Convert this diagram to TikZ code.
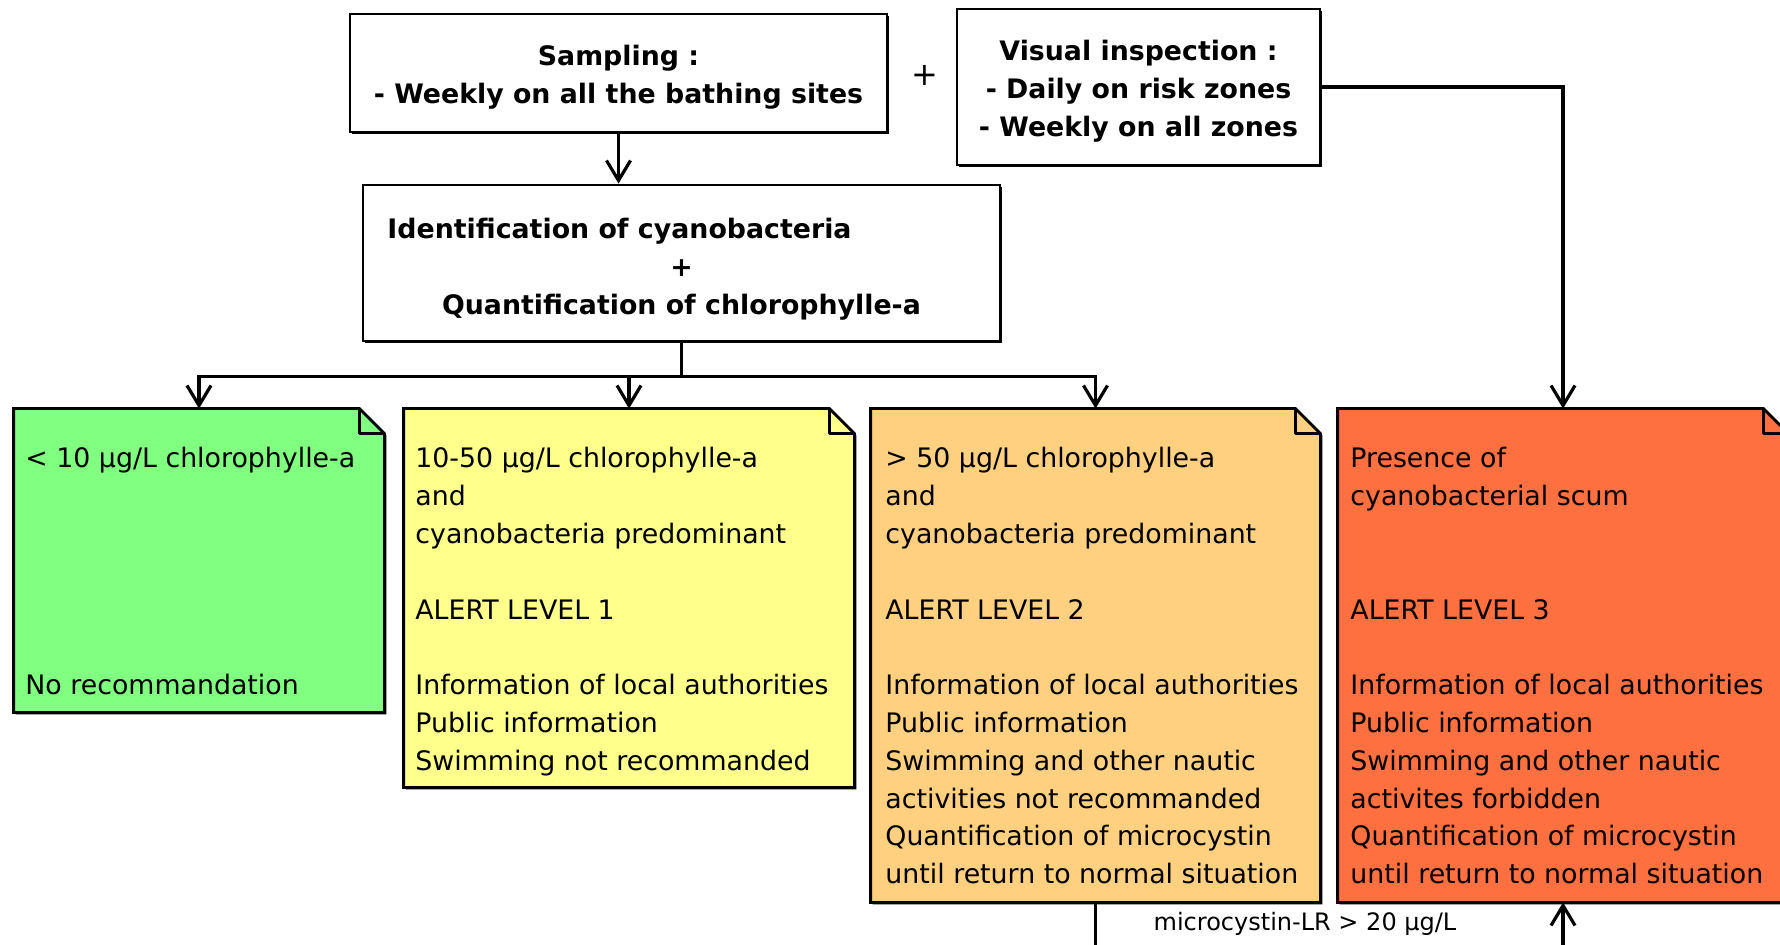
\documentclass[tikz,border=0pt]{standalone}
\usepackage{fontspec}
\setmainfont{DejaVu Sans}
\usepackage{tikz}
\usetikzlibrary{arrows.meta,calc,shadows}
\definecolor{levelzero}{RGB}{128,255,128}
\definecolor{levelone}{RGB}{255,255,140}
\definecolor{leveltwo}{RGB}{255,208,128}
\definecolor{levelthree}{RGB}{255,112,64}
\def\FoldSize{12.5pt}
\def\NoteSkip{18.9pt}
\tikzset{
  boxline/.style={draw=black,line width=1.4pt},
  headbox/.style={boxline,fill=white,inner sep=0pt,align=center,
    drop shadow={shadow xshift=1pt,shadow yshift=-1pt,opacity=1,fill=black},
    font=\fontsize{13.4}{19}\selectfont\bfseries},
  notebox/.style={draw=none,inner sep=0pt},
  notetext/.style={anchor=north west,inner sep=0pt,align=left,
    font=\fontsize{13.4}{18.9}\selectfont},
  link/.style={line width=1.8pt},
  arr/.style={link,-{Straight Barb[length=10pt,width=12pt,line width=1.6pt]}},
}
% note with a folded corner, drawn round a named node
\newcommand{\dogear}[2]{%
  \fill[black] ([shift={(1pt,-1pt)}]#1.north west) -- ([shift={(1pt-\FoldSize,-1pt)}]#1.north east)
    -- ([shift={(1pt,-1pt-\FoldSize)}]#1.north east) -- ([shift={(1pt,-1pt)}]#1.south east)
    -- ([shift={(1pt,-1pt)}]#1.south west) -- cycle;
  \draw[boxline,fill=#2] (#1.north west) -- ([xshift=-\FoldSize]#1.north east)
    -- ([yshift=-\FoldSize]#1.north east) -- (#1.south east) -- (#1.south west) -- cycle;
  \draw[boxline,line join=round] ([xshift=-\FoldSize]#1.north east) |- ([yshift=-\FoldSize]#1.north east);
}

\begin{document}
\begin{tikzpicture}[x=0.5pt,y=-0.5pt]
  \useasboundingbox (0,0) rectangle (1780,945);
  \clip (0,0) rectangle (1780,945);
  \coordinate (floor) at (0,945);
  % monitoring
  \node[headbox,minimum width=268.5pt,minimum height=59pt] (samp) at (618.5,73)
    {\rule{0pt}{14pt}Sampling :\\- Weekly on all the bathing sites};
  \node[headbox,minimum width=181.5pt,minimum height=78pt] (vis) at (1138.5,87)
    {\rule{0pt}{14pt}Visual inspection :\\- Daily on risk zones\\- Weekly on all zones};
  \node[font=\fontsize{16}{19}\selectfont] (plus) at (925,75) {+};
  \node[headbox,minimum width=318.5pt,minimum height=78pt] (ident) at (681.5,263)
    {\rule{0pt}{16.5pt}Identification of cyanobacteria\hspace*{62pt}\\+\\Quantification of chlorophylle-a};
  % alert levels
  \node[notebox,minimum width=185pt,minimum height=151.5pt] (green) at (199,560.5) {};
  \node[notebox,minimum width=225pt,minimum height=189pt] (yellow) at (629,598) {};
  \node[notebox,minimum width=224.5pt,minimum height=246.5pt] (orange) at (1095.5,655.5) {};
  \node[notebox,minimum width=225pt,minimum height=246.5pt] (red) at (1563,655.5) {};
  \dogear{green}{levelzero}
  \dogear{yellow}{levelone}
  \dogear{orange}{leveltwo}
  \dogear{red}{levelthree}
  \node[notetext] (greentxt) at (25,441)
    {\strut< 10 µg/L chlorophylle-a\\[5*\NoteSkip]No recommandation};
  \node[notetext] (yellowtxt) at (415,441)
    {\strut10-50 µg/L chlorophylle-a\\and\\cyanobacteria predominant\\[\NoteSkip]ALERT LEVEL 1\\[\NoteSkip]%
     Information of local authorities\\Public information\\Swimming not recommanded};
  \node[notetext] (orangetxt) at (885,441)
    {\strut> 50 µg/L chlorophylle-a\\and\\cyanobacteria predominant\\[\NoteSkip]ALERT LEVEL 2\\[\NoteSkip]%
     Information of local authorities\\Public information\\Swimming and other nautic\\activities not recommanded\\%
     Quantification of microcystin\\until return to normal situation};
  \node[notetext] (redtxt) at (1350,441)
    {\strut Presence of\\cyanobacterial scum\\[2*\NoteSkip]ALERT LEVEL 3\\[\NoteSkip]%
     Information of local authorities\\Public information\\Swimming and other nautic\\activites forbidden\\%
     Quantification of microcystin\\until return to normal situation};
  % connectors
  \draw[arr] (samp.south) -- (samp.south |- ident.north);
  \draw[link] (ident.south) -- ++(0,34) coordinate (fork);
  \draw[arr] (fork) -| (green.north);
  \draw[arr] (fork) -| (yellow.north);
  \draw[arr] (fork) -| (orange.north);
  \draw[arr] (vis.east) -| (red.north);
  \draw[link] (orange.south) -- (orange.south |- floor);
  \draw[arr] (red.south |- floor) -- (red.south);
  \node[font=\fontsize{12}{14}\selectfont] (mclabel) at (1305,924) {microcystin-LR > 20 µg/L};
\end{tikzpicture}
\end{document}
